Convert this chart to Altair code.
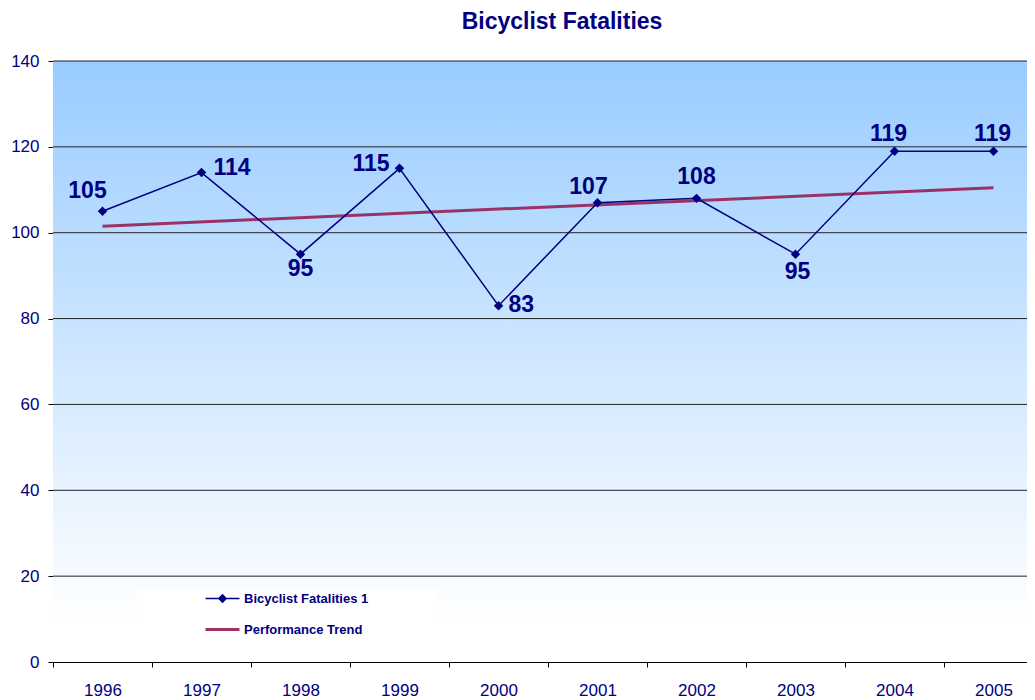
import altair as alt
import pandas as pd

years = [1996, 1997, 1998, 1999, 2000, 2001, 2002, 2003, 2004, 2005]
fatalities = [105, 114, 95, 115, 83, 107, 108, 95, 119, 119]
series_names = ["Bicyclist Fatalities 1", "Performance Trend"]
y_ticks = [0, 20, 40, 60, 80, 100, 120, 140]

NAVY = "#000080"
MAROON = "#993366"
FONT = "Liberation Sans"

df = pd.DataFrame({"year": years, "value": fatalities, "series": series_names[0]})
grid_df = pd.DataFrame({"value": y_ticks[1:]})

W, H = 990, 601

x_enc = alt.X("year:O", scale=alt.Scale(type="band", paddingInner=0, paddingOuter=0),
              bandPosition=0.5,
              axis=alt.Axis(title=None, labelAngle=0, tickBand="extent", labelFontSize=17,
                            labelColor=NAVY, labelFont=FONT, labelPadding=15, tickSize=5,
                            tickColor="black", domainColor="black", grid=False))
y_enc = alt.Y("value:Q", scale=alt.Scale(domain=[0, 140], nice=False),
              axis=alt.Axis(title=None, values=y_ticks, labelFontSize=17, labelColor=NAVY,
                            labelFont=FONT, labelPadding=9, tickSize=5, tickColor="black",
                            domainColor="black", grid=False))

color_scale = alt.Scale(domain=series_names, range=[NAVY, MAROON])

bg = alt.Chart(df).mark_rect(
    color=alt.Gradient(gradient="linear",
                       stops=[alt.GradientStop(color="#99CCFF", offset=0),
                              alt.GradientStop(color="#FFFFFF", offset=0.93)],
                       x1=0, x2=0, y1=0, y2=1)
).encode(x=alt.value(0), x2=alt.value(W), y=alt.value(0), y2=alt.value(H))

gridlines = alt.Chart(grid_df).mark_rule(color="#222222", strokeWidth=1).encode(y=y_enc)

legend_box = alt.Chart(df).mark_rect(color="#FFFFFF", opacity=0.8).encode(
    x=alt.value(84), x2=alt.value(384), y=alt.value(529), y2=alt.value(585))

base = alt.Chart(df)

# legend symbols: unit = 6px (symbolSize 144)
PATH1 = "M-2.83,-0.125H2.83V0.125H-2.83Z M0,-0.78L0.78,0L0,0.78L-0.78,0Z"
PATH2 = "M-2.83,-0.25H2.83V0.25H-2.83Z"

leg_props = dict(orient="none", legendX=163, legendY=531, padding=0,
                 symbolSize=144, symbolStrokeWidth=0, symbolOpacity=1,
                 labelFont=FONT, labelFontSize=13, labelFontWeight="bold",
                 labelColor=NAVY, rowPadding=17, labelOffset=15)

legend_layer = base.mark_point(filled=True, opacity=0).encode(
    x=x_enc, y=y_enc,
    color=alt.Color("series:N", scale=color_scale, title=None, legend=alt.Legend(**leg_props)),
    shape=alt.Shape("series:N", scale=alt.Scale(domain=series_names, range=[PATH1, PATH2]),
                    title=None, legend=alt.Legend(**leg_props)),
)

line = base.mark_line(strokeWidth=1.5).encode(
    x=x_enc, y=y_enc, color=alt.Color("series:N", scale=color_scale, title=None))

pts = base.mark_point(filled=True, shape="diamond", size=90, opacity=1).encode(
    x=x_enc, y=y_enc, color=alt.Color("series:N", scale=color_scale, title=None))

trend = base.transform_regression("year", "value").transform_calculate(
    series="'Performance Trend'"
).mark_line(strokeWidth=3).encode(
    x=x_enc, y=y_enc, color=alt.Color("series:N", scale=color_scale, title=None))

placements = {
    (-15, -20, "center"): [1996],
    (12, -5, "left"): [1997],
    (0, 15, "center"): [1998],
    (2, 18, "center"): [2003],
    (-10, -4, "right"): [1999],
    (10, -1, "left"): [2000],
    (-9, -16, "center"): [2001],
    (0, -21, "center"): [2002],
    (-6, -17, "center"): [2004],
    (-1, -17, "center"): [2005],
}

label_layers = []
for (dx, dy, align), yrs in placements.items():
    label_layers.append(
        base.transform_filter(alt.FieldOneOfPredicate(field="year", oneOf=yrs))
        .mark_text(font=FONT, fontSize=23, fontWeight="bold", color=NAVY,
                   dx=dx, dy=dy, align=align, baseline="middle")
        .encode(x=x_enc, y=y_enc, text="value:Q")
    )

chart = alt.layer(bg, gridlines, legend_box, legend_layer, trend, line, pts, *label_layers).properties(
    width=W, height=H,
    title=alt.TitleParams("Bicyclist Fatalities", font=FONT, fontSize=23, fontWeight="bold",
                          color=NAVY, anchor="middle", offset=18, dx=14),
    autosize=alt.AutoSizeParams(type="none"),
    padding={"left": 45, "top": 53, "right": -16, "bottom": 38},
).configure_view(stroke=None)

chart.save("out.html", embed_options={"renderer": "svg", "actions": False})
